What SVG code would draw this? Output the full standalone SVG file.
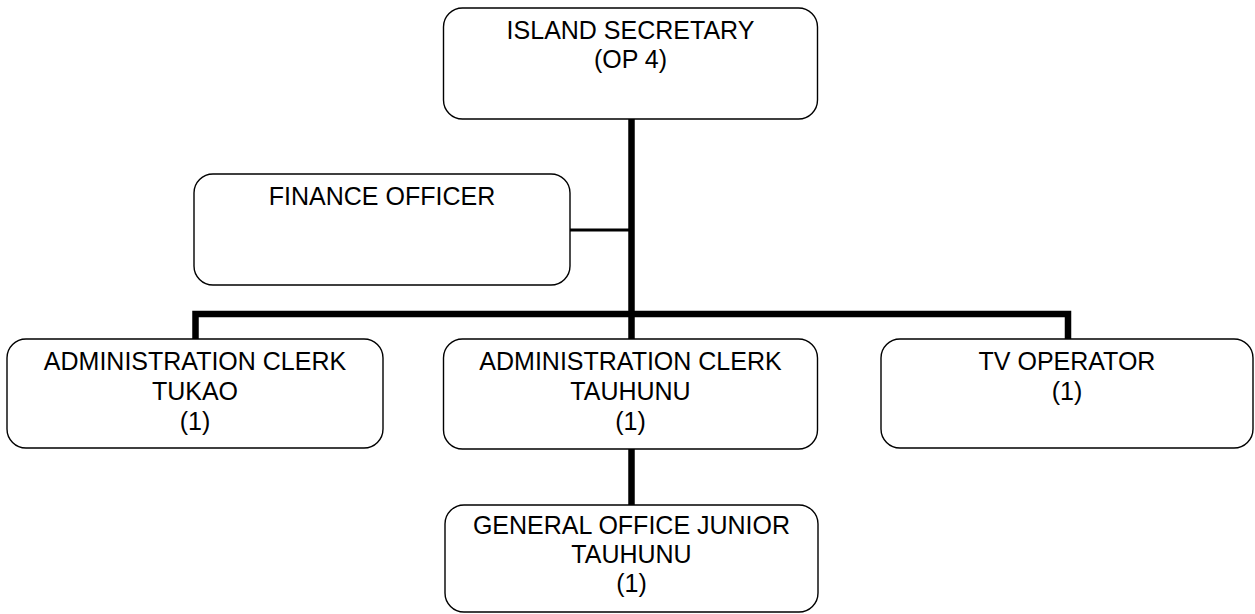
<svg xmlns="http://www.w3.org/2000/svg" width="1255" height="614" viewBox="0 0 1255 614">
  <style>
    .box { fill: #ffffff; stroke: #000000; stroke-width: 1.4; }
    .lbl { font-family: "Liberation Sans", Arial, sans-serif; font-size: 25px; fill: #000000; text-anchor: middle; }
    .main { fill: none; stroke: #000000; stroke-width: 6.5; }
    .thin { fill: none; stroke: #000000; stroke-width: 3; }
  </style>
  <rect width="1255" height="614" fill="#ffffff"/>

  <!-- connectors -->
  <g id="connectors">
    <line class="main" x1="631.5" y1="119" x2="631.5" y2="339"/>
    <line class="thin" x1="570" y1="230" x2="631.5" y2="230"/>
    <polyline class="main" points="195.5,339 195.5,314 1068,314 1068,339"/>
    <line class="main" x1="631.5" y1="449" x2="631.5" y2="505"/>
  </g>

  <g id="island-secretary">
    <rect class="box" x="443.5" y="8" width="374" height="111" rx="19"/>
    <text class="lbl" x="630.5" y="39">ISLAND SECRETARY</text>
    <text class="lbl" x="630.5" y="68">(OP 4)</text>
  </g>

  <g id="finance-officer">
    <rect class="box" x="194" y="174" width="376" height="111" rx="19"/>
    <text class="lbl" x="382" y="205">FINANCE OFFICER</text>
  </g>

  <g id="admin-clerk-tukao">
    <rect class="box" x="7" y="339" width="376" height="109" rx="19"/>
    <text class="lbl" x="195" y="370">ADMINISTRATION CLERK</text>
    <text class="lbl" x="195" y="400">TUKAO</text>
    <text class="lbl" x="195" y="430">(1)</text>
  </g>

  <g id="admin-clerk-tauhunu">
    <rect class="box" x="443.5" y="339" width="374" height="110" rx="19"/>
    <text class="lbl" x="630.5" y="370">ADMINISTRATION CLERK</text>
    <text class="lbl" x="630.5" y="400">TAUHUNU</text>
    <text class="lbl" x="630.5" y="430">(1)</text>
  </g>

  <g id="tv-operator">
    <rect class="box" x="881" y="339" width="372" height="109" rx="19"/>
    <text class="lbl" x="1067" y="370">TV OPERATOR</text>
    <text class="lbl" x="1067" y="400">(1)</text>
  </g>

  <g id="general-office-junior">
    <rect class="box" x="445" y="505" width="373" height="107" rx="19"/>
    <text class="lbl" x="631.5" y="534">GENERAL OFFICE JUNIOR</text>
    <text class="lbl" x="631.5" y="563">TAUHUNU</text>
    <text class="lbl" x="631.5" y="592">(1)</text>
  </g>
</svg>
